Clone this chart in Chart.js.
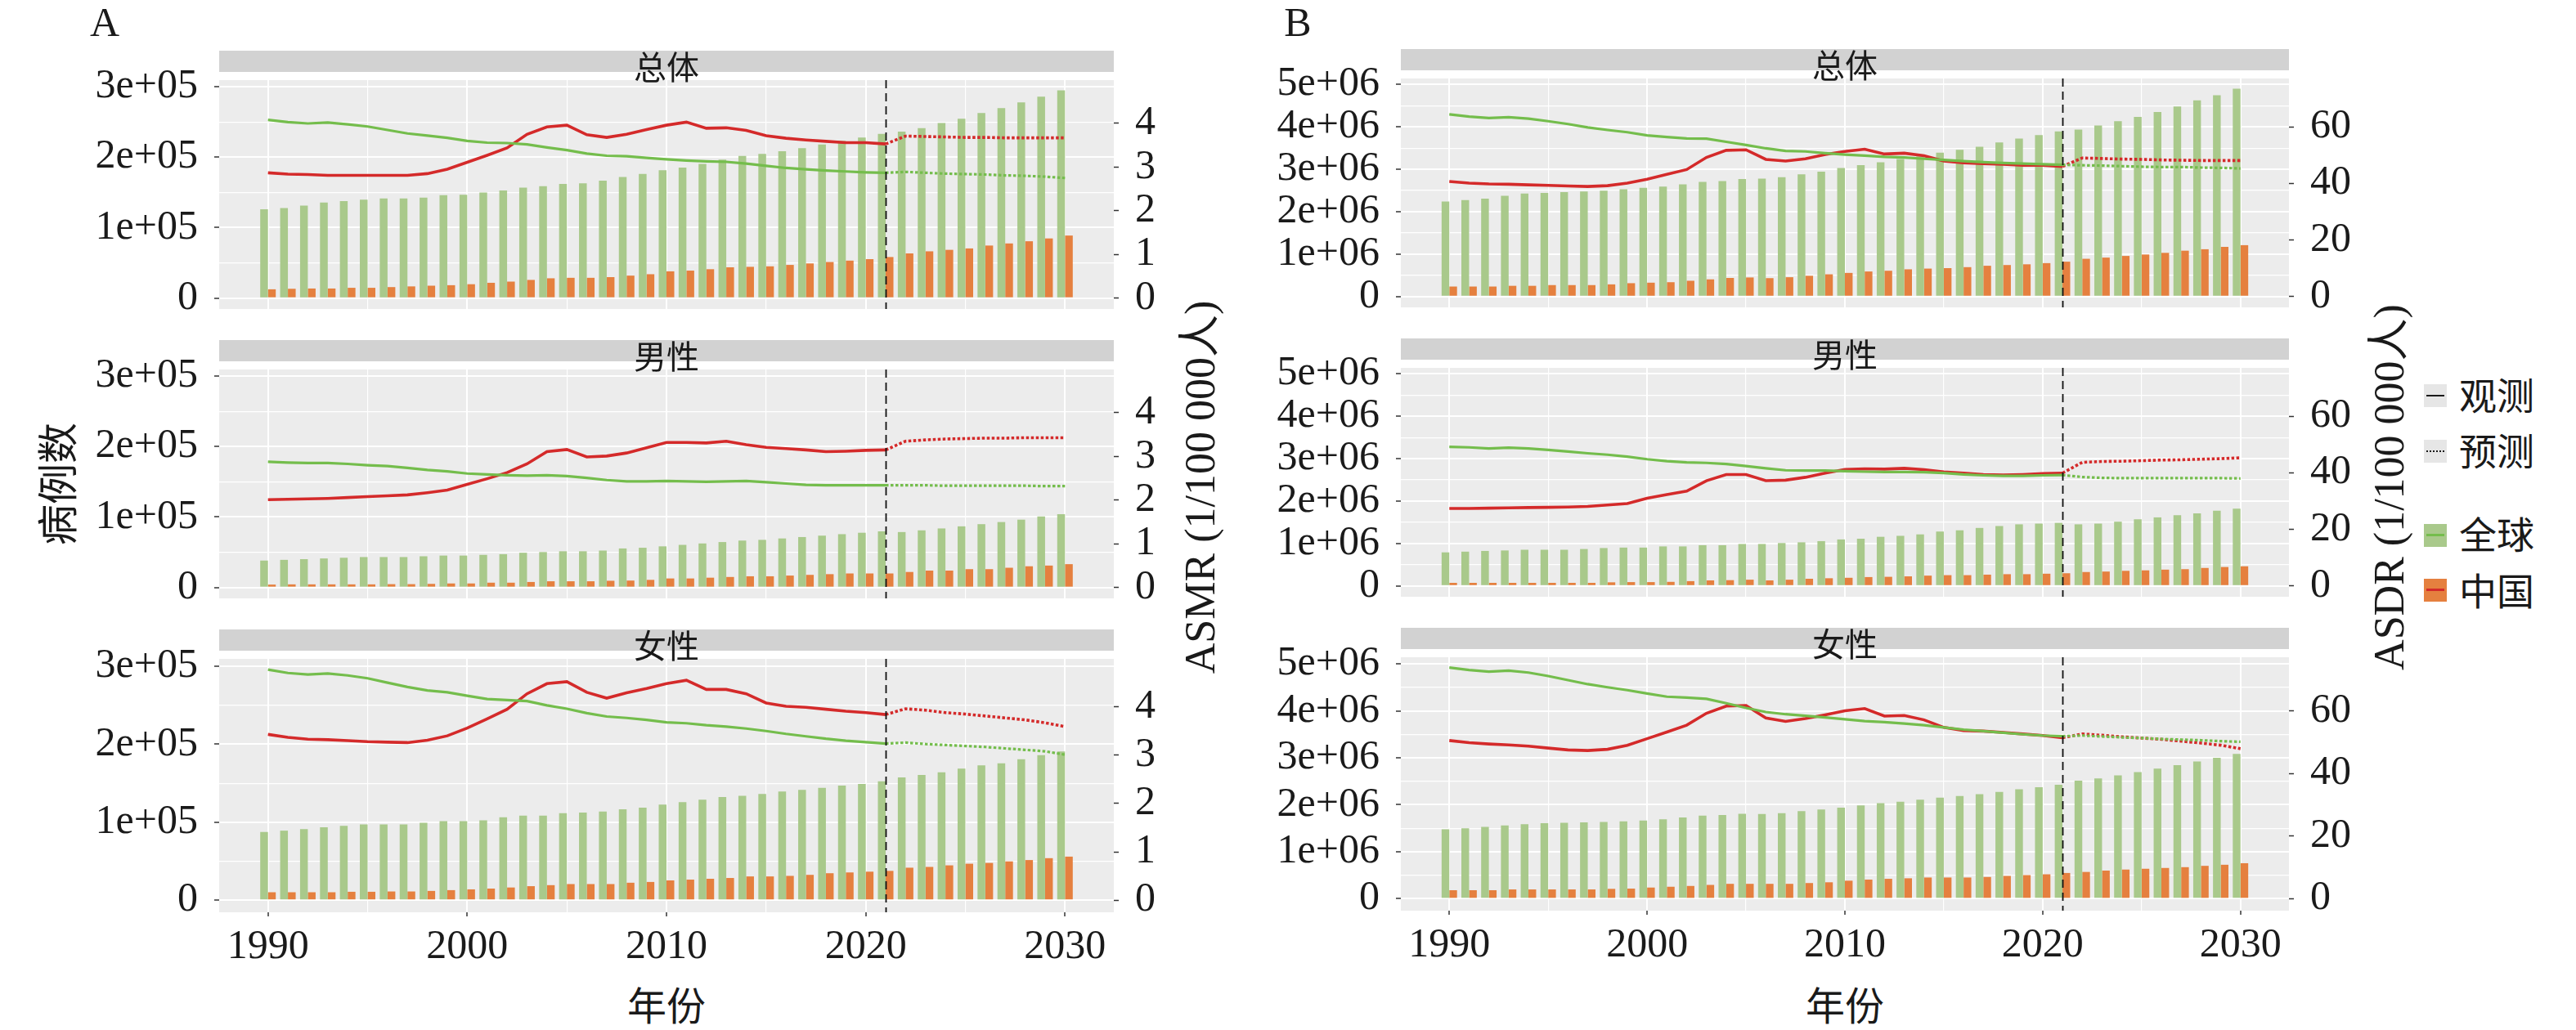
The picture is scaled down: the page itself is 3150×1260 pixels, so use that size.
<!DOCTYPE html>
<html>
<head>
<meta charset="utf-8">
<script src="https://cdn.jsdelivr.net/npm/chart.js@4.4.1/dist/chart.umd.min.js"></script>
<style>
  body { margin: 0; background: #fff; width: 3150px; height: 1260px; position: relative; overflow: hidden; color: #1a1a1a; }
  canvas { position: absolute; }
  .strip { position: absolute; background: #d2d2d2; }
  .stripText { position: absolute; transform: translate(-50%, -50%); font-family: "Noto Sans CJK SC"; font-size: 40px; white-space: nowrap; }
  .txt { position: absolute; transform: translate(-50%, -50%); white-space: nowrap; font-family: "Liberation Serif", "Noto Sans CJK SC", serif; }
  .rot { transform: translate(-50%, -50%) rotate(-90deg); }
  .key { position: absolute; width: 28px; height: 28px; }
  .keyLine { position: absolute; left: 3px; right: 3px; top: 13px; height: 0; }
  .legText { position: absolute; font-family: "Noto Sans CJK SC"; font-size: 46px; transform: translateY(-50%); white-space: nowrap; }
</style>
</head>
<body>

<div class="txt" style="left:128px;top:27px;font-size:50px">A</div>
<div class="txt" style="left:1587px;top:27px;font-size:50px">B</div>

<div class="txt rot" style="left:67px;top:592px;font-size:50px;font-family:'Noto Sans CJK SC'">病例数</div>
<div class="txt rot" style="left:1462px;top:596px;font-size:52px">ASMR (1/100 000人)</div>
<div class="txt rot" style="left:2916px;top:596px;font-size:52px">ASDR (1/100 000人)</div>
<div class="txt" style="left:815px;top:1227px;font-size:48px;font-family:'Noto Sans CJK SC'">年份</div>
<div class="txt" style="left:2256px;top:1227px;font-size:48px;font-family:'Noto Sans CJK SC'">年份</div>

<!-- legend -->
<div class="key" style="left:2964px;top:470px;background:#e6e6e6"><div class="keyLine" style="border-top:2px solid #1a1a1a"></div></div>
<div class="legText" style="left:3007px;top:481px">观测</div>
<div class="key" style="left:2964px;top:538px;background:#e6e6e6"><div class="keyLine" style="border-top:2px dotted #1a1a1a"></div></div>
<div class="legText" style="left:3007px;top:549px">预测</div>
<div class="key" style="left:2964px;top:641px;background:#a9c98b"><div class="keyLine" style="border-top:3px solid #74bd4c;top:12px"></div></div>
<div class="legText" style="left:3007px;top:651px">全球</div>
<div class="key" style="left:2964px;top:708px;background:#e5803f"><div class="keyLine" style="border-top:3px solid #d42a2a;top:12px"></div></div>
<div class="legText" style="left:3007px;top:720px">中国</div>

<script>
// years 1990-2030, observed up to 2021, forecast 2022-2030
const years = [1990,1991,1992,1993,1994,1995,1996,1997,1998,1999,2000,2001,2002,2003,2004,2005,2006,2007,2008,2009,
  2010,2011,2012,2013,2014,2015,2016,2017,2018,2019,2020,2021,2022,2023,2024,2025,2026,2027,2028,2029,2030];
const obsEnd = 2021;
const xTickYears = [1990, 2000, 2010, 2020, 2030];
const xMinorYears = [1995, 2005, 2015, 2025];

// A: deaths (cases) and ASMR
const aLeftTicks = [0, 100000, 200000, 300000];
const aLeftLabels = ['0', '1e+05', '2e+05', '3e+05'];
const aLeftMinor = [50000, 150000, 250000];
const aRightTicks = [0, 1, 2, 3, 4];

const aAllGlobalCases = [126100,127800,131200,135600,137600,139700,141400,141400,142700,146100,146800,149800,152900,156900,159000,162000,163100,166800,171900,176300,
  181400,185400,190500,196600,201700,204700,208500,212900,218000,223400,228100,233200,236300,241400,248500,254600,262700,269800,278000,286100,294900];
const aAllChinaCases = [12500,13200,13600,13600,14600,14600,15600,16600,17600,18300,19700,21700,23400,25800,28100,28800,28800,29800,31900,33900,
  38000,39000,41000,43700,44400,45100,47100,49200,51200,53200,55300,58300,63400,66400,68500,70500,74600,77600,80700,84700,88800];
const aAllGlobalRate = [4.08,4.03,4.00,4.02,3.98,3.93,3.85,3.77,3.72,3.67,3.60,3.56,3.55,3.52,3.45,3.39,3.31,3.26,3.25,3.21,
  3.18,3.15,3.13,3.12,3.08,3.03,2.98,2.95,2.92,2.90,2.88,2.87,2.89,2.87,2.85,2.84,2.83,2.81,2.80,2.78,2.75];
const aAllChinaRate = [2.87,2.84,2.83,2.81,2.81,2.81,2.81,2.81,2.85,2.95,3.11,3.27,3.44,3.75,3.92,3.96,3.74,3.68,3.75,3.86,
  3.96,4.03,3.89,3.90,3.84,3.72,3.66,3.62,3.59,3.56,3.56,3.53,3.71,3.70,3.69,3.68,3.68,3.67,3.67,3.67,3.67];

const aMaleGlobalCases = [38200,39200,40200,41200,42200,43200,43200,43200,44300,45300,45300,46300,47300,49300,50300,51400,51400,52400,55400,56400,
  58400,60500,62500,64500,66600,67600,69600,71600,73600,75700,77700,79700,78700,81100,83800,86800,89900,92900,96300,101000,104100];
const aMaleChinaCases = [4100,4400,4400,4400,4400,4400,4700,4700,5100,5700,5700,6800,6800,7800,8800,8800,8800,9500,9800,10800,
  12800,12800,13900,14900,15900,15900,16900,17900,18900,19900,19900,19900,22000,24000,24000,26000,26000,28000,30100,31100,33100];
const aMaleGlobalRate = [2.88,2.86,2.85,2.85,2.83,2.80,2.78,2.74,2.69,2.66,2.61,2.59,2.57,2.56,2.57,2.55,2.51,2.46,2.43,2.43,
  2.44,2.43,2.42,2.43,2.44,2.41,2.38,2.35,2.34,2.34,2.34,2.34,2.34,2.34,2.33,2.33,2.33,2.33,2.33,2.32,2.32];
const aMaleChinaRate = [2.01,2.02,2.03,2.04,2.06,2.08,2.10,2.12,2.17,2.23,2.36,2.49,2.63,2.83,3.11,3.16,2.99,3.01,3.08,3.20,
  3.32,3.32,3.31,3.35,3.27,3.21,3.18,3.15,3.11,3.12,3.14,3.15,3.35,3.38,3.40,3.41,3.42,3.42,3.43,3.43,3.43];

const aFemaleGlobalCases = [87500,89200,91200,93600,95300,97300,97300,97300,99300,101400,101400,102400,106400,108500,108500,111500,112500,113600,116600,118600,
  122700,125800,128800,132200,133900,136300,139300,141400,144100,147100,149200,152500,157600,160700,164100,168800,172900,175600,180700,186100,190800];
const aFemaleChinaCases = [10200,10200,10200,10200,10800,10800,11200,11200,11900,12900,13900,14900,16300,18000,19300,20700,20700,20700,22400,23400,
  25400,26400,27500,28500,30500,30500,31200,32500,34600,35600,36600,37600,41700,42700,44700,46800,47800,49800,51500,53900,55900];
const aFemaleGlobalRate = [4.77,4.70,4.67,4.69,4.65,4.59,4.50,4.41,4.34,4.30,4.23,4.16,4.14,4.12,4.03,3.96,3.87,3.80,3.77,3.73,
  3.68,3.66,3.62,3.59,3.55,3.50,3.44,3.39,3.34,3.30,3.27,3.24,3.26,3.23,3.21,3.19,3.17,3.14,3.11,3.08,3.01];
const aFemaleChinaRate = [3.43,3.37,3.33,3.32,3.30,3.28,3.27,3.26,3.31,3.40,3.56,3.75,3.95,4.27,4.48,4.52,4.30,4.18,4.29,4.38,
  4.48,4.55,4.36,4.36,4.27,4.08,4.01,3.99,3.95,3.91,3.88,3.84,3.96,3.93,3.88,3.85,3.81,3.77,3.73,3.67,3.59];

// B: DALYs and ASDR
const bLeftTicks = [0, 1000000, 2000000, 3000000, 4000000, 5000000];
const bLeftLabels = ['0', '1e+06', '2e+06', '3e+06', '4e+06', '5e+06'];
const bLeftMinor = [500000, 1500000, 2500000, 3500000, 4500000];
const bRightTicks = [0, 20, 40, 60];

const bAllGlobalCases = [2241000,2275000,2309000,2376000,2427000,2444000,2461000,2477000,2494000,2528000,2562000,2590000,2646000,2703000,2720000,2770000,2782000,2815000,2883000,2945000,
  3029000,3097000,3164000,3243000,3305000,3390000,3457000,3530000,3632000,3722000,3806000,3891000,3936000,4032000,4133000,4234000,4352000,4482000,4623000,4747000,4899000];
const bAllChinaCases = [236000,236000,236000,253000,253000,270000,270000,270000,287000,315000,327000,338000,372000,405000,439000,450000,434000,456000,490000,524000,
  557000,591000,608000,642000,659000,670000,693000,726000,743000,760000,788000,822000,890000,918000,957000,991000,1030000,1081000,1115000,1171000,1211000];
const bAllGlobalRate = [64.4,63.6,63.1,63.4,62.9,62.0,61.0,59.8,58.9,58.1,57.0,56.4,55.9,55.8,54.7,53.6,52.4,51.5,51.3,50.7,
  50.2,49.8,49.4,49.2,48.7,48.3,47.9,47.5,47.2,47.0,46.8,46.6,46.4,46.3,46.1,45.9,45.8,45.8,45.6,45.5,45.3];
const bAllChinaRate = [40.7,40.1,39.8,39.7,39.5,39.3,39.1,38.9,39.2,40.1,41.5,43.2,44.9,49.2,51.7,51.9,48.5,47.9,48.7,50.2,
  51.3,52.1,50.4,50.7,49.8,47.9,47.3,47.0,46.8,46.4,46.4,46.0,49.0,48.8,48.6,48.5,48.3,48.2,48.1,48.1,48.1];

const bMaleGlobalCases = [791000,808000,825000,836000,853000,853000,853000,870000,893000,904000,904000,932000,932000,960000,960000,989000,989000,1011000,1028000,1056000,
  1096000,1113000,1158000,1181000,1215000,1282000,1311000,1367000,1412000,1452000,1469000,1486000,1452000,1469000,1514000,1571000,1616000,1667000,1712000,1774000,1819000];
const bMaleChinaCases = [73000,73000,73000,73000,73000,73000,73000,73000,85000,90000,90000,96000,113000,130000,136000,147000,130000,147000,169000,181000,
  192000,209000,215000,226000,243000,254000,254000,266000,277000,277000,288000,299000,328000,339000,356000,367000,384000,395000,424000,446000,463000];
const bMaleGlobalRate = [49.2,49.0,48.6,48.9,48.6,48.1,47.5,46.9,46.4,45.7,44.8,44.1,43.7,43.5,43.1,42.4,41.6,40.9,40.8,40.8,
  40.6,40.4,40.3,40.3,40.2,39.9,39.4,39.1,38.9,38.9,39.1,39.2,38.5,38.2,38.1,38.1,38.1,38.1,38.1,38.1,38.0];
const bMaleChinaRate = [27.4,27.4,27.5,27.6,27.7,27.8,27.9,28.1,28.6,29.1,31.0,32.3,33.5,37.2,39.4,39.4,37.2,37.4,38.4,39.9,
  41.2,41.4,41.3,41.6,41.1,40.3,39.9,39.4,39.2,39.4,39.7,39.9,43.7,44.0,44.1,44.3,44.5,44.6,44.8,45.0,45.3];

const bFemaleGlobalCases = [1477000,1499000,1528000,1561000,1584000,1607000,1618000,1623000,1635000,1646000,1663000,1691000,1731000,1770000,1781000,1809000,1804000,1821000,1866000,1900000,
  1939000,1984000,2035000,2063000,2108000,2153000,2187000,2227000,2272000,2328000,2373000,2424000,2514000,2559000,2627000,2694000,2768000,2841000,2920000,2999000,3083000];
const bFemaleChinaCases = [180000,180000,180000,197000,197000,197000,197000,197000,209000,214000,237000,254000,271000,293000,316000,316000,316000,316000,333000,349000,
  383000,406000,423000,434000,451000,451000,451000,462000,485000,502000,519000,547000,569000,598000,620000,637000,654000,671000,699000,722000,755000];
const bFemaleGlobalRate = [73.8,73.0,72.5,72.8,72.2,71.1,69.8,68.5,67.5,66.6,65.5,64.5,64.2,63.8,62.4,60.9,59.6,58.9,58.4,57.9,
  57.3,56.7,56.4,55.9,55.4,54.7,54.0,53.5,53.0,52.5,52.1,51.9,52.1,51.8,51.5,51.3,51.0,50.8,50.6,50.3,50.1];
const bFemaleChinaRate = [50.5,49.8,49.4,49.1,48.7,48.1,47.5,47.3,47.7,49.0,51.1,53.2,55.4,59.2,61.5,61.7,57.7,56.6,57.5,58.7,
  60.0,60.7,58.3,58.5,57.1,54.7,53.7,53.5,53.1,52.6,52.1,51.4,52.6,52.2,51.7,51.3,50.9,50.3,49.7,49.0,47.9];

const stripNames = ['总体', '男性', '女性'];

// colours
const GREEN_BAR = '#a9c98b';
const ORANGE_BAR = '#e5803f';
const GREEN_LINE = '#74bd4c';
const RED_LINE = '#d42a2a';
const PANEL_BG = '#ececec';

Chart.defaults.font.family = '"Liberation Serif", "Noto Sans CJK SC", serif';
Chart.defaults.font.size = 50;
Chart.defaults.color = '#1a1a1a';

const colA = { x: 268, w: 1094, tops: [88, 442, 796], yMin: -15500, yMax: 309500, k: 1 / 62000,
  ticks: aLeftTicks, labels: aLeftLabels, minor: aLeftMinor, rTicks: aRightTicks };
const colB = { x: 1713, w: 1086, tops: [86, 440, 794], yMin: -255000, yMax: 5140000, k: 1.5e-5,
  ticks: bLeftTicks, labels: bLeftLabels, minor: bLeftMinor, rTicks: bRightTicks };

const panels = [
  { col: colA, row: 0, gc: aAllGlobalCases, cc: aAllChinaCases, gr: aAllGlobalRate, cr: aAllChinaRate },
  { col: colA, row: 1, gc: aMaleGlobalCases, cc: aMaleChinaCases, gr: aMaleGlobalRate, cr: aMaleChinaRate },
  { col: colA, row: 2, gc: aFemaleGlobalCases, cc: aFemaleChinaCases, gr: aFemaleGlobalRate, cr: aFemaleChinaRate },
  { col: colB, row: 0, gc: bAllGlobalCases, cc: bAllChinaCases, gr: bAllGlobalRate, cr: bAllChinaRate },
  { col: colB, row: 1, gc: bMaleGlobalCases, cc: bMaleChinaCases, gr: bMaleGlobalRate, cr: bMaleChinaRate },
  { col: colB, row: 2, gc: bFemaleGlobalCases, cc: bFemaleChinaCases, gr: bFemaleGlobalRate, cr: bFemaleChinaRate }
];

const splitIdx = years.indexOf(obsEnd);
const pts = (vals, from, to) => years.slice(from, to).map((yr, i) => ({ x: yr, y: vals[from + i] }));

const panelDeco = {
  id: 'panelDeco',
  beforeDraw(chart) {
    const { ctx, chartArea: a } = chart;
    ctx.save();
    ctx.fillStyle = PANEL_BG;
    ctx.fillRect(a.left, a.top, a.width, a.height);
    ctx.restore();
  },
  afterDatasetsDraw(chart) {
    const { ctx, chartArea: a } = chart;
    const x = Math.round(chart.scales.x.getPixelForValue(obsEnd)) + 0.5;
    ctx.save();
    ctx.strokeStyle = '#111';
    ctx.lineWidth = 1.8;
    ctx.setLineDash([10, 6]);
    ctx.beginPath();
    ctx.moveTo(x, a.top);
    ctx.lineTo(x, a.bottom);
    ctx.stroke();
    ctx.restore();
  }
};

function lineSet(data, color, width, dashed) {
  return {
    type: 'line', data, borderColor: color, borderWidth: width, pointRadius: 0,
    borderDash: dashed ? [3.5, 2.5] : [], tension: 0, yAxisID: 'y2', order: 0, borderCapStyle: 'butt'
  };
}

function makePanel(p) {
  const c = p.col;
  const showX = p.row === 2;
  const leftW = 170, rightW = 80, padTop = 40;
  const xAxisH = showX ? 62 : 0;
  const padBottom = showX ? 8 : 20;
  const plotH = 320;
  const plotY = c.tops[p.row];

  // strip
  const strip = document.createElement('div');
  strip.className = 'strip';
  Object.assign(strip.style, { left: c.x + 'px', top: (plotY - 26) + 'px', width: c.w + 'px', height: '26px' });
  document.body.appendChild(strip);

  const canvas = document.createElement('canvas');
  canvas.width = leftW + c.w + rightW;
  canvas.height = padTop + plotH + xAxisH + padBottom;
  canvas.style.left = (c.x - leftW) + 'px';
  canvas.style.top = (plotY - padTop) + 'px';
  document.body.appendChild(canvas);

  const stripText = document.createElement('div');
  stripText.className = 'stripText';
  stripText.textContent = stripNames[p.row];
  Object.assign(stripText.style, { left: (c.x + c.w / 2) + 'px', top: (plotY - 8) + 'px' });
  document.body.appendChild(stripText);

  const isMajorY = v => c.ticks.includes(v);

  new Chart(canvas, {
    type: 'bar',
    data: {
      datasets: [
        { data: pts(p.gc, 0, years.length), backgroundColor: GREEN_BAR, yAxisID: 'y', order: 1,
          categoryPercentage: 0.78, barPercentage: 1 },
        { data: pts(p.cc, 0, years.length), backgroundColor: ORANGE_BAR, yAxisID: 'y', order: 1,
          categoryPercentage: 0.78, barPercentage: 1 },
        lineSet(pts(p.gr, 0, splitIdx + 1), GREEN_LINE, 3.2, false),
        lineSet(pts(p.gr, splitIdx, years.length), GREEN_LINE, 3.2, true),
        lineSet(pts(p.cr, 0, splitIdx + 1), RED_LINE, 3.6, false),
        lineSet(pts(p.cr, splitIdx, years.length), RED_LINE, 3.6, true)
      ]
    },
    options: {
      responsive: false,
      animation: false,
      devicePixelRatio: 1,
      events: [],
      layout: { padding: { top: padTop, bottom: padBottom, left: 0, right: 0 } },
      plugins: { legend: { display: false }, tooltip: { enabled: false } },
      scales: {
        x: {
          type: 'linear', min: 1987.55, max: 2032.45, offset: false,
          border: { display: false },
          grid: {
            offset: false, color: '#ffffff',
            lineWidth: ctx => (ctx.tick && ctx.tick.value % 10 === 0) ? 2 : 1.2,
            drawTicks: showX, tickLength: 5, tickWidth: 1.5,
            tickColor: ctx => (ctx.tick && ctx.tick.value % 10 === 0) ? '#333' : 'rgba(0,0,0,0)'
          },
          ticks: {
            display: showX, autoSkip: false, maxRotation: 0, padding: 8,
            callback: v => xTickYears.includes(v) ? String(v) : ''
          },
          afterBuildTicks: s => { s.ticks = xTickYears.concat(xMinorYears).sort().map(v => ({ value: v })); },
          afterFit: s => { s.height = xAxisH; }
        },
        y: {
          type: 'linear', position: 'left', min: c.yMin, max: c.yMax,
          border: { display: false },
          grid: {
            color: '#ffffff',
            lineWidth: ctx => (ctx.tick && isMajorY(ctx.tick.value)) ? 2 : 1.2,
            tickLength: 6, tickWidth: 1.5,
            tickColor: ctx => (ctx.tick && isMajorY(ctx.tick.value)) ? '#333' : 'rgba(0,0,0,0)'
          },
          ticks: {
            autoSkip: false, padding: 20,
            callback: v => { const i = c.ticks.indexOf(v); return i >= 0 ? c.labels[i] : ''; }
          },
          afterBuildTicks: s => { s.ticks = c.ticks.concat(c.minor).sort((a, b) => a - b).map(v => ({ value: v })); },
          afterFit: s => { s.width = leftW; }
        },
        y2: {
          type: 'linear', position: 'right', min: c.yMin * c.k, max: c.yMax * c.k,
          border: { display: false },
          grid: { drawOnChartArea: false, tickLength: 6, tickWidth: 1.5, tickColor: '#333' },
          ticks: { autoSkip: false, padding: 20, callback: v => String(v) },
          afterBuildTicks: s => { s.ticks = c.rTicks.map(v => ({ value: v })); },
          afterFit: s => { s.width = rightW; }
        }
      }
    },
    plugins: [panelDeco]
  });
}

panels.forEach(makePanel);
</script>
</body>
</html>
